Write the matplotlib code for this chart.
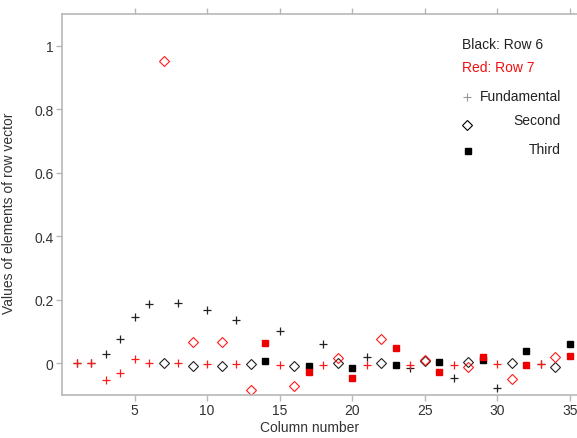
import matplotlib
matplotlib.use("Agg")
import matplotlib.pyplot as plt

plt.rcParams["font.family"] = ["Liberation Sans", "DejaVu Sans"]

# Fundamental (+), second (diamond) and third (square) harmonic columns
fund_cols = [1, 2, 3, 4, 5, 6, 8, 10, 12, 15, 18, 21, 24, 27, 30, 33]
fund_row6 = [0.0, 0.0, 0.028, 0.076, 0.144, 0.187, 0.191, 0.168, 0.136, 0.102,
             0.060, 0.021, -0.014, -0.046, -0.078, -0.003]
fund_row7 = [0.0, 0.0, -0.054, -0.032, 0.012, 0.002, 0.0, -0.002, -0.003, -0.006,
             -0.005, -0.005, -0.007, -0.005, -0.003, -0.003]

second_cols = [7, 9, 11, 13, 16, 19, 22, 25, 28, 31, 34]
second_row6 = [0.002, -0.008, -0.008, -0.002, -0.008, 0.001, 0.001, 0.006, 0.004, 0.001, -0.013]
second_row7 = [0.952, 0.067, 0.067, -0.085, -0.072, 0.016, 0.076, 0.010, -0.011, -0.049, 0.020]

third_cols = [14, 17, 20, 23, 26, 29, 32, 35]
third_row6 = [0.006, -0.008, -0.016, -0.005, 0.003, 0.010, 0.038, 0.062]
third_row7 = [0.065, -0.027, -0.046, 0.048, -0.027, 0.019, -0.005, 0.023]

x_ticks = [5, 10, 15, 20, 25, 30, 35]
y_ticks = [0, 0.2, 0.4, 0.6, 0.8, 1]
y_tick_labels = ["0", "0.2", "0.4", "0.6", "0.8", "1"]

BLACK = "#222222"
RED = "#ff1a1a"
SPINE = "#b8b8b8"

fig = plt.figure(figsize=(5.77, 4.39), dpi=100)
ax = fig.add_axes([0.1075, 0.098, 0.8925, 0.868])

ax.plot(fund_cols, fund_row6, "+", color=BLACK, ms=6, mew=0.9, ls="none")
ax.plot(fund_cols, fund_row7, "+", color=RED, ms=6, mew=0.9, ls="none")
ax.plot(second_cols, second_row6, "D", mfc="none", mec=BLACK, ms=4.6, mew=0.8, ls="none")
ax.plot(second_cols, second_row7, "D", mfc="none", mec=RED, ms=4.6, mew=0.8, ls="none")
ax.plot(third_cols, third_row6, "s", color="black", ms=5, ls="none")
ax.plot(third_cols, third_row7, "s", color="#ee0000", ms=5, ls="none")

ax.set_xlim(0, 35.5)
ax.set_ylim(-0.1, 1.1)
ax.set_xticks(x_ticks)
ax.set_xticklabels([str(t) for t in x_ticks])
ax.set_yticks(y_ticks)
ax.set_yticklabels(y_tick_labels)

for side in ["left", "bottom", "top"]:
    ax.spines[side].set_color(SPINE)
    ax.spines[side].set_linewidth(1.2)
ax.spines["right"].set_visible(False)
ax.tick_params(direction="out", length=4, width=1, color=SPINE,
               labelsize=10, labelcolor="#333333", top=True, right=False, pad=2)

ax.set_xlabel("Column number", fontsize=10, color="#333333")
ax.xaxis.set_label_coords(0.48, -0.065)
ax.set_ylabel("Values of elements of row vector", fontsize=10, color="#333333")
ax.yaxis.set_label_coords(-0.089, 0.48)

# hand-made key
tx = ax.transAxes
ax.text(0.777, 0.921, "Black: Row 6", transform=tx, fontsize=10, color="#222222", va="center")
ax.text(0.777, 0.861, "Red: Row 7", transform=tx, fontsize=10, color="#ee1111", va="center")
ax.plot([0.787], [0.783], "+", transform=tx, color="#999999", ms=6, mew=0.8)
ax.text(0.812, 0.785, "Fundamental", transform=tx, fontsize=10, color="#222222", va="center")
ax.plot([0.787], [0.709], "D", transform=tx, mfc="none", mec="black", ms=4.6, mew=0.8)
ax.text(0.969, 0.722, "Second", transform=tx, fontsize=10, color="#222222", va="center", ha="right")
ax.plot([0.789], [0.639], "s", transform=tx, color="black", ms=5)
ax.text(0.969, 0.646, "Third", transform=tx, fontsize=10, color="#222222", va="center", ha="right")

fig.savefig("out.png", dpi=100)
